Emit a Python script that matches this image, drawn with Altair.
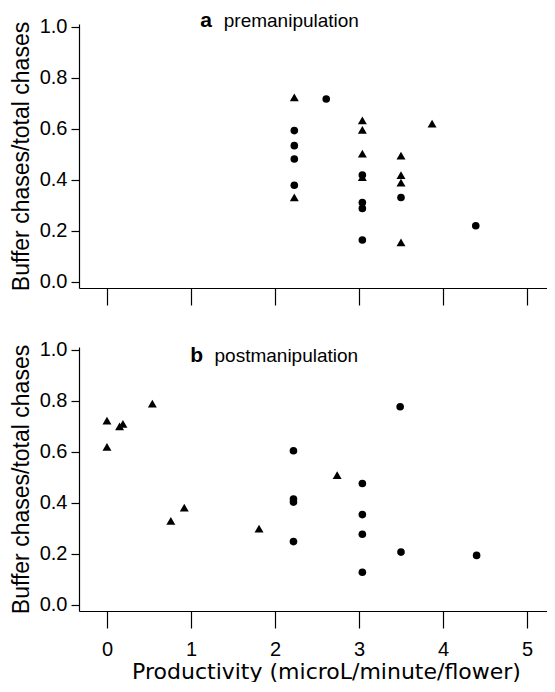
import altair as alt
import pandas as pd

# ---- data ----
# panel a: premanipulation
pre_circle_x = [2.61, 2.23, 2.23, 2.23, 2.23, 3.04, 3.04, 3.04, 3.04, 3.50, 4.39]
pre_circle_y = [0.716, 0.592, 0.533, 0.481, 0.378, 0.418, 0.310, 0.287, 0.163, 0.330, 0.219]
pre_tri_x = [2.23, 2.23, 3.04, 3.04, 3.04, 3.04, 3.50, 3.50, 3.50, 3.50, 3.87]
pre_tri_y = [0.722, 0.330, 0.632, 0.595, 0.502, 0.410, 0.494, 0.418, 0.388, 0.154, 0.619]

# panel b: postmanipulation
post_circle_x = [3.49, 2.22, 2.22, 2.22, 2.22, 3.04, 3.04, 3.04, 3.04, 3.50, 4.40]
post_circle_y = [0.776, 0.603, 0.414, 0.402, 0.247, 0.475, 0.353, 0.276, 0.127, 0.206, 0.193]
post_tri_x = [0.00, 0.00, 0.15, 0.19, 0.54, 0.76, 0.92, 1.81, 2.74]
post_tri_y = [0.721, 0.618, 0.699, 0.709, 0.788, 0.328, 0.380, 0.298, 0.508]

x_ticks = [0, 1, 2, 3, 4, 5]
y_ticks = [0.0, 0.2, 0.4, 0.6, 0.8, 1.0]

panel_letters = ["a", "b"]
panel_words = ["premanipulation", "postmanipulation"]
letter_x = [1.11, 0.99]
word_x = [1.39, 1.28]
label_y = [1.0, 0.95]

X_DOMAIN = [-0.333, 5.238]
Y_DOMAIN = [-0.025, 1.01]
FONT = "Liberation Sans"
W, H = 468, 264


def panel(cx, cy, tx, ty, idx, bottom):
    circ = pd.DataFrame({"x": cx, "y": cy})
    tri = pd.DataFrame({"x": tx, "y": ty})
    lab_l = pd.DataFrame({"x": [letter_x[idx]], "y": [label_y[idx]], "t": [panel_letters[idx]]})
    lab_w = pd.DataFrame({"x": [word_x[idx]], "y": [label_y[idx]], "t": [panel_words[idx]]})

    if bottom:
        xaxis = alt.Axis(values=x_ticks, tickSize=17, labelPadding=11, format="d",
                         title="Productivity (microL/minute/flower)", titlePadding=2,
                         titleFont="DejaVu Sans", titleFontSize=22,
                         titleX=247, titleAlign="center", titleAnchor="start")
    else:
        xaxis = alt.Axis(values=x_ticks, tickSize=17, labels=False, title=None)
    yaxis = alt.Axis(values=y_ticks, format=".1f", tickSize=8, labelPadding=4,
                     title="Buffer chases/total chases", titlePadding=6)

    xenc = alt.X("x:Q", scale=alt.Scale(domain=X_DOMAIN, nice=False, zero=False), axis=xaxis)
    yenc = alt.Y("y:Q", scale=alt.Scale(domain=Y_DOMAIN, nice=False, zero=False), axis=yaxis)

    c = alt.Chart(circ).mark_point(shape="circle", filled=True, color="black",
                                   opacity=1, size=58).encode(x=xenc, y=yenc)
    t = alt.Chart(tri).mark_point(shape="triangle-up", filled=True, color="black",
                                  opacity=1, size=80).encode(x="x:Q", y="y:Q")
    tl = alt.Chart(lab_l).mark_text(font=FONT, fontSize=21, fontWeight="bold", align="left",
                                    baseline="alphabetic", color="black").encode(
        x="x:Q", y="y:Q", text="t:N")
    tw = alt.Chart(lab_w).mark_text(font=FONT, fontSize=19, align="left",
                                    baseline="alphabetic", color="black").encode(
        x="x:Q", y="y:Q", text="t:N")
    return alt.layer(c, t, tl, tw).properties(width=W, height=H)


top = panel(pre_circle_x, pre_circle_y, pre_tri_x, pre_tri_y, 0, False)
bot = panel(post_circle_x, post_circle_y, post_tri_x, post_tri_y, 1, True)

chart = alt.vconcat(top, bot, spacing=59, bounds="flush").properties(
    padding={"left": 2, "top": 1, "right": 0, "bottom": 0}
).configure_view(stroke=None).configure_axis(
    grid=False,
    domainColor="black", tickColor="black", labelColor="black", titleColor="black",
    domainWidth=1.2, tickWidth=1.2,
    labelFont=FONT, labelFontSize=20, titleFont=FONT, titleFontSize=23,
    titleFontWeight="normal",
)

chart.save("out.html", embed_options={"renderer": "svg", "actions": False})
